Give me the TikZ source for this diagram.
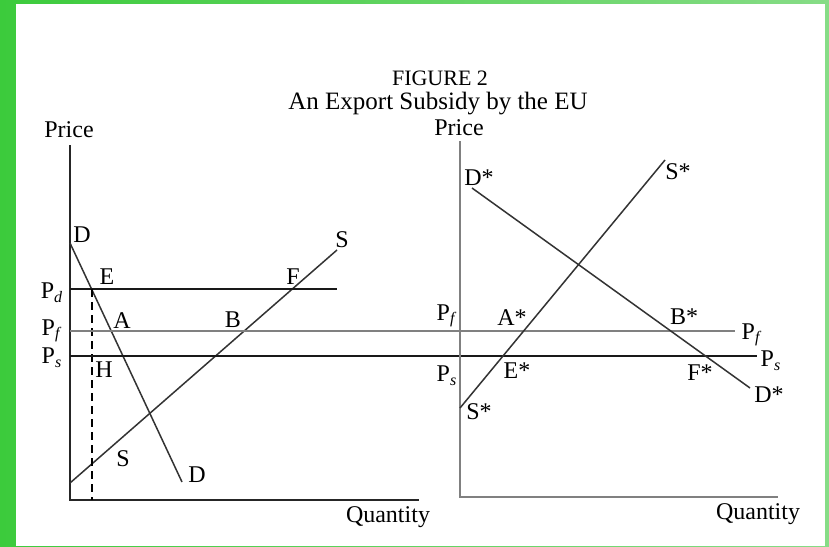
\documentclass[tikz,border=0pt]{standalone}
\usepackage{fontspec}
\setmainfont{Liberation Serif}
\usetikzlibrary{calc}
\definecolor{framegreenl}{HTML}{3CCB3C}
\definecolor{framegreenr}{HTML}{86DC86}
\definecolor{axisgrey}{HTML}{808080}
\tikzset{
  axis/.style={line width=1.1pt, draw=black!85},
  axisg/.style={line width=0.9pt, draw=axisgrey},
  curve/.style={line width=0.75pt, draw=black!80},
  pline/.style={line width=0.9pt, draw=black!90},
  plinef/.style={line width=0.8pt, draw=black!50},
  guide/.style={line width=0.8pt, dashed, dash pattern=on 4pt off 2.5pt, draw=black},
  lbl/.style={font=\fontsize{12}{14}\selectfont, inner sep=0.5pt},
  ttl/.style={font=\fontsize{12.5}{15}\selectfont, inner sep=0pt},
}
\newcommand{\Pd}{P\textsubscript{\textit{d}}}
\newcommand{\Pf}{P\textsubscript{\textit{f}}}
\newcommand{\Ps}{P\textsubscript{\textit{s}}}
\begin{document}
\begin{tikzpicture}[x=0.5pt, y=-0.5pt]
    \useasboundingbox (0,0) rectangle (829,546);
    % frame
    \shade[left color=framegreenl, right color=framegreenr] (0,0) rectangle (829,546);
    \fill[white] (16,4) rectangle (825,546);

    % title
    \node[ttl, font=\fontsize{11}{13}\selectfont] (title) at (440,78) {FIGURE 2};
    \node[ttl] (subtitle) at (438,104) {An Export Subsidy by the EU};

    % home market (left)
    \coordinate (O1) at (70,500);
    \coordinate (Y1) at (70,145);
    \coordinate (X1) at (419,500);
    \draw[axis] (Y1) -- (O1) -- (X1);
    \node[lbl] (price1) at (69,130) {Price};
    \node[lbl] (qty1) at (388,517) {Quantity};

    \coordinate (Dtop) at (70,243);
    \coordinate (Dbot) at (182,482);
    \coordinate (Sbot) at (70,483);
    \coordinate (Stop) at (337,250);
    \coordinate (Pdl) at (70,289);
    \coordinate (Pdr) at (337,289);
    \coordinate (Hx) at (92,289);
    \coordinate (Hb) at (92,500);
    \draw[curve] (Dtop) -- (Dbot);
    \draw[curve] (Sbot) -- (Stop);
    \draw[pline] (Pdl) -- (Pdr);
    \draw[guide] (Hx) -- (Hb);

    \node[lbl] (lD1) at (82,235) {D};
    \node[lbl] (lD2) at (197,475) {D};
    \node[lbl] (lS1) at (342,240) {S};
    \node[lbl] (lS2) at (123,459) {S};
    \node[lbl] (lE) at (107,277) {E};
    \node[lbl] (lF) at (293,277) {F};
    \node[lbl] (lA) at (122,321) {A};
    \node[lbl] (lB) at (233,320) {B};
    \node[lbl] (lH) at (104,370) {H};
    \node[lbl] (lPd) at (52,293) {\Pd};
    \node[lbl] (lPf) at (52,331) {\Pf};
    \node[lbl] (lPs) at (52,358) {\Ps};

    % world prices across both panels
    \coordinate (Pfl) at (70,331);
    \coordinate (Pfr) at (735,331);
    \coordinate (Psl) at (70,356);
    \coordinate (Psr) at (757,356);
    \draw[plinef] (Pfl) -- (Pfr);
    \draw[pline] (Psl) -- (Psr);

    % foreign market (right)
    \coordinate (O2) at (460,497);
    \coordinate (Y2) at (460,141);
    \coordinate (X2) at (778,497);
    \draw[axisg] (Y2) -- (O2) -- (X2);
    \node[lbl] (price2) at (459,128) {Price};
    \node[lbl] (qty2) at (758,514) {Quantity};

    \coordinate (Dstop) at (472,188);
    \coordinate (Dsbot) at (750,388);
    \coordinate (Ssbot) at (460,408);
    \coordinate (Sstop) at (665,160);
    \draw[curve] (Dstop) -- (Dsbot);
    \draw[curve] (Ssbot) -- (Sstop);

    \node[lbl] (lDs1) at (479,178) {D*};
    \node[lbl] (lDs2) at (769,395) {D*};
    \node[lbl] (lSs1) at (678,172) {S*};
    \node[lbl] (lSs2) at (479,412) {S*};
    \node[lbl] (lAs) at (512,318) {A*};
    \node[lbl] (lBs) at (684,317) {B*};
    \node[lbl] (lEs) at (517,371) {E*};
    \node[lbl] (lFs) at (700,373) {F*};
    \node[lbl] (lPf2) at (447,316) {\Pf};
    \node[lbl] (lPs2) at (447,376) {\Ps};
    \node[lbl] (lPf3) at (752,335) {\Pf};
    \node[lbl] (lPs3) at (771,361) {\Ps};
\end{tikzpicture}
\end{document}
